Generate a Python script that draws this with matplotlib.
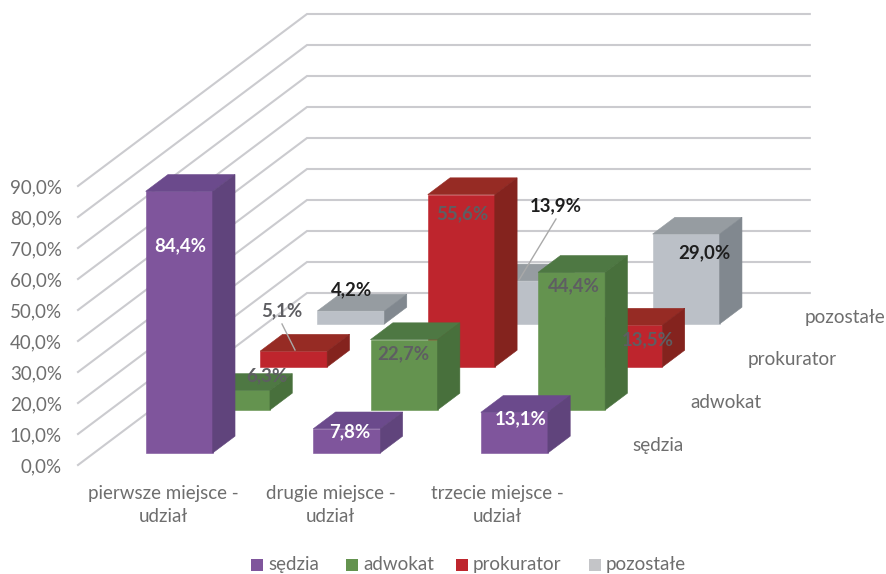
import matplotlib
matplotlib.use('Agg')
import matplotlib.pyplot as plt
from matplotlib.patches import Polygon, Rectangle

plt.rcParams['font.family'] = ['Lato', 'DejaVu Sans']

# --- dane ---
categories = ['pierwsze miejsce -\nudział', 'drugie miejsce -\nudział', 'trzecie miejsce -\nudział']
series_names = ['sędzia', 'adwokat', 'prokurator', 'pozostałe']
sedzia = [84.4, 7.8, 13.1]
adwokat = [6.3, 22.7, 44.4]
prokurator = [5.1, 55.6, 13.5]
pozostale = [4.2, 13.9, 29.0]
y_ticks = [0, 10, 20, 30, 40, 50, 60, 70, 80, 90]

# front, top, side
colors = [('#7F559C', '#6B4A8C', '#60447C'),
          ('#64934F', '#4E7843', '#48703C'),
          ('#BE252D', '#962B24', '#84231E'),
          ('#BBC0C7', '#969CA1', '#81888F')]
legend_colors = ['#7F559C', '#64934F', '#BE252D', '#C4C5C8']

# --- rzut ukosny (piksele) ---
X0, Y0 = 78, 465
CAT_W = 167.6
DEPTH_X, DEPTH_Y = 57.25, 43.0
PX_PER_PCT = 3.1
BAR_W = 0.40
BAR_D = 0.39
BAR_LEFT = 0.308
BAR_FRONT = 0.28


def project(cat, depth, value):
    return (X0 + cat * CAT_W + depth * DEPTH_X,
            Y0 - value * PX_PER_PCT - depth * DEPTH_Y)


def draw_bar(ax, cat, row, value, cols):
    x0, x1 = cat + BAR_LEFT, cat + BAR_LEFT + BAR_W
    d0, d1 = row + BAR_FRONT, row + BAR_FRONT + BAR_D
    front = [project(x0, d0, 0), project(x1, d0, 0), project(x1, d0, value), project(x0, d0, value)]
    top = [project(x0, d0, value), project(x1, d0, value), project(x1, d1, value), project(x0, d1, value)]
    side = [project(x1, d0, 0), project(x1, d1, 0), project(x1, d1, value), project(x1, d0, value)]
    for pts, c in zip((front, top, side), cols):
        ax.add_patch(Polygon(pts, closed=True, facecolor=c, edgecolor=c, lw=0.4, zorder=3))


fig = plt.figure(figsize=(8.86, 5.74), dpi=100)
ax = fig.add_axes([0, 0, 1, 1])
ax.set_xlim(0, 886)
ax.set_ylim(574, 0)
ax.axis('off')

# siatka
grid_c = '#CBCBCF'
for t in y_ticks:
    p0 = project(0, 0, t)
    p1 = project(0, 4, t)
    p2 = project(3, 4, t)
    ax.plot([p0[0], p1[0], p2[0]], [p0[1], p1[1], p2[1]], color=grid_c, lw=1.5, zorder=1,
            solid_joinstyle='miter')
    ax.text(62, p0[1] + 2, f'{t:.1f}%'.replace('.', ','), ha='right', va='center',
            fontsize=13.5, color='#6E6E6E')

# slupki od tylu do przodu
all_series = [sedzia, adwokat, prokurator, pozostale]
for row in range(3, -1, -1):
    for cat in range(3):
        draw_bar(ax, cat, row, all_series[row][cat], colors[row])

# etykiety danych
white = '#FFFFFF'
dark = '#1E1E1E'
grey = '#5E5E62'
value_labels = [(sedzia[0], 180, 246, white), (sedzia[1], 350, 432, white), (sedzia[2], 521, 419, white),
                (adwokat[0], 267, 376, grey), (adwokat[1], 403, 354, grey), (adwokat[2], 574, 286, grey),
                (prokurator[0], 282, 311, grey), (prokurator[1], 462, 214, grey), (prokurator[2], 648, 340, grey),
                (pozostale[0], 352, 290, dark), (pozostale[1], 556, 206, dark), (pozostale[2], 704, 253, dark)]
for val, x, y, c in value_labels:
    ax.text(x, y, f'{val:.1f}%'.replace('.', ','), ha='center', va='center',
            fontsize=13.4, fontweight='bold', color=c, zorder=6)

# linie odniesienia
ax.plot([282, 295], [324, 350], color='#A9A9A9', lw=1, zorder=5)
ax.plot([556, 519], [219, 280], color='#A9A9A9', lw=1, zorder=5)

# kategorie
for x, label in zip((163.5, 330.5, 497.5), categories):
    ax.text(x, 505, label, ha='center', va='center', fontsize=13.5, color='#6E6E6E', linespacing=1.5)

# nazwy serii
for (x, y), name in zip(((658, 445), (726, 402), (792, 360), (845, 317)), series_names):
    ax.text(x, y, name, ha='center', va='center', fontsize=13.6, color='#6E6E6E')

# legenda
for sx, c, name in zip((251, 346, 456, 589), legend_colors, series_names):
    ax.add_patch(Rectangle((sx, 559), 12, 12, facecolor=c, edgecolor='none'))
    ax.text(sx + 17, 564.5, name, ha='left', va='center', fontsize=13.5, color='#6E6E6E')

fig.savefig('out.png', dpi=100)
